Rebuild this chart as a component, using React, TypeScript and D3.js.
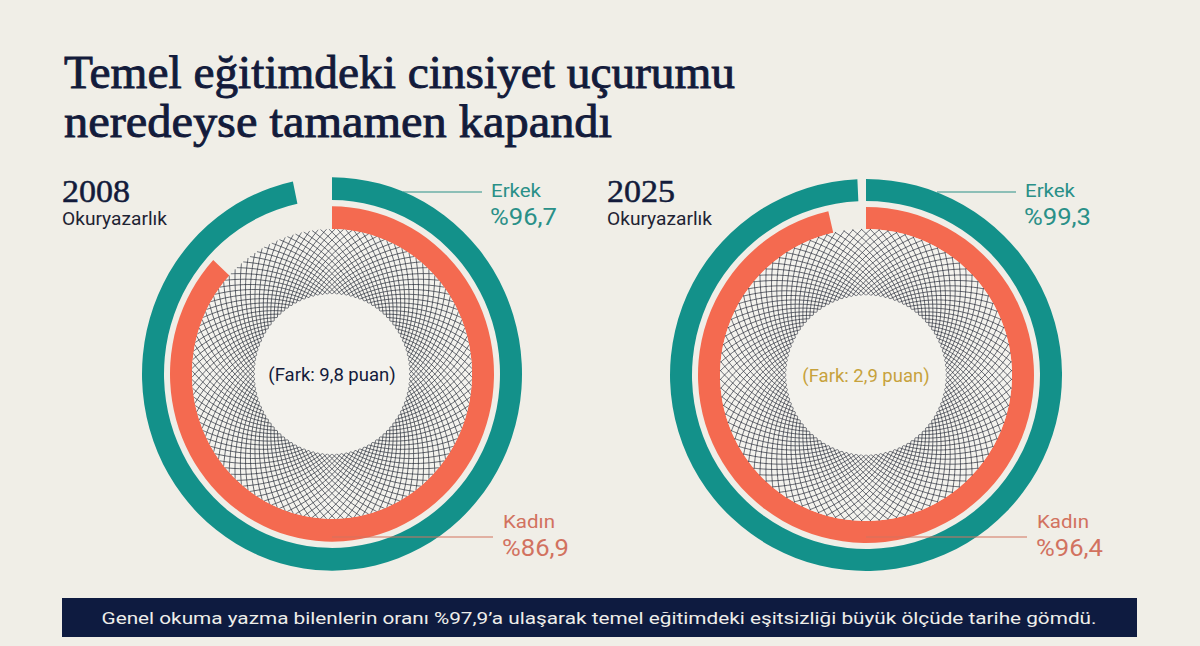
import React from "react";
import * as d3 from "d3";

// ---- data ----
const years = ["2008", "2025"];
const maleRates = [96.7, 99.3];
const femaleRates = [86.9, 96.4];
const seriesNames = ["Erkek", "Kadın"];
const subtitle = "Okuryazarlık";
const titleLines = ["Temel eğitimdeki cinsiyet uçurumu", "neredeyse tamamen kapandı"];
const footnote =
  "Genel okuma yazma bilenlerin oranı %97,9’a ulaşarak temel eğitimdeki eşitsizliği büyük ölçüde tarihe gömdü.";

// ---- layout / style ----
const W = 1200;
const H = 646;
const BG = "#f0eee7";
const NAVY = "#131b3b";
const TEAL = "#13918a";
const CORAL = "#f46a50";
const TEAL_TXT = "#2a9088";
const CORAL_TXT = "#d2725f";
const GOLD = "#c7a23c";
const SANS = "Roboto, 'Noto Sans', sans-serif";
const SERIF = "'Liberation Serif', 'DejaVu Serif', serif";

const panels = [
  { cx: 332, cy: 374, R: 190, sy: 1.035, yearX: 62, gapColor: NAVY },
  { cx: 866, cy: 375, R: 196, sy: 1.0, yearX: 607, gapColor: GOLD },
];

const fmt = (v: number) => v.toFixed(1).replace(".", ",");
const angle = d3.scaleLinear().domain([0, 100]).range([0, 2 * Math.PI]);

const spiralLine = d3
  .line<[number, number]>()
  .x((d) => d[0])
  .y((d) => d[1])
  .curve(d3.curveBasis);

function Ring({ i }: { i: number }) {
  const p = panels[i];
  const R = p.R;
  const tealOuter = R;
  const tealInner = R - 22;
  const coralOuter = R - 28;
  const coralInner = R - 50;
  const hatchOuter = coralInner;
  const hatchInner = R * 0.406;

  const tealArc = d3
    .arc<any>()
    .innerRadius(tealInner)
    .outerRadius(tealOuter)
    .startAngle(0)
    .endAngle(angle(maleRates[i]));
  const coralArc = d3
    .arc<any>()
    .innerRadius(coralInner)
    .outerRadius(coralOuter)
    .startAngle(0)
    .endAngle(angle(femaleRates[i]));

  // decorative mesh: two families of logarithmic spirals crossing the annulus
  const L = Math.log(hatchOuter / hatchInner);
  const n = 104;
  const steps = 24;
  const spirals: string[] = [];
  for (const dir of [1, -1]) {
    for (let k = 0; k < n; k++) {
      const a0 = (k / n) * 2 * Math.PI;
      const pts: [number, number][] = d3.range(steps + 1).map((s) => {
        const t = (s / steps) * L;
        const r = hatchInner * Math.exp(t);
        const a = a0 + dir * t * 1.05;
        return [r * Math.sin(a), -r * Math.cos(a)];
      });
      spirals.push(spiralLine(pts) as string);
    }
  }

  const gap = maleRates[i] - femaleRates[i];

  return (
    <g>
      <g transform={`translate(${p.cx},${p.cy}) scale(1,${p.sy})`}>
        <path d={tealArc({}) as string} fill={TEAL} />
        <path d={coralArc({}) as string} fill={CORAL} />
        <circle r={hatchOuter} fill="#f4f3ee" />
        <g fill="none" stroke="#272c38" strokeWidth={0.75} strokeOpacity={0.92}>
          {spirals.map((d, k) => (
            <path key={k} d={d} />
          ))}
        </g>
        <circle r={hatchInner} fill="#f3f2ed" />
      </g>
      <text
        x={p.cx}
        y={p.cy + 7}
        textAnchor="middle"
        fontFamily={SANS}
        fontSize={18.5}
        fill={p.gapColor}
      >
        {`(Fark: ${fmt(gap)} puan)`}
      </text>

      {/* year heading */}
      <text
        x={p.yearX}
        y={202}
        fontFamily={SERIF}
        fontSize={32}
        fill={NAVY}
        stroke={NAVY}
        strokeWidth={0.5}
        textLength={68}
        lengthAdjust="spacingAndGlyphs"
      >
        {years[i]}
      </text>
      <text
        x={p.yearX}
        y={225}
        fontFamily={SANS}
        fontSize={18}
        fill="#1e2333"
        textLength={105}
        lengthAdjust="spacingAndGlyphs"
      >
        {subtitle}
      </text>

      {/* male label */}
      <line
        x1={p.cx + 71}
        x2={p.cx + 150}
        y1={192}
        y2={192}
        stroke={TEAL_TXT}
        strokeWidth={1.2}
      />
      <text
        x={p.cx + 159}
        y={197}
        fontFamily={SANS}
        fontSize={18}
        fill={TEAL_TXT}
        textLength={50}
        lengthAdjust="spacingAndGlyphs"
      >
        {seriesNames[0]}
      </text>
      <text
        x={p.cx + 158}
        y={225}
        fontFamily={SANS}
        fontSize={24}
        fill={TEAL_TXT}
        textLength={67}
        lengthAdjust="spacingAndGlyphs"
      >
        {`%${fmt(maleRates[i])}`}
      </text>

      {/* female label */}
      <line
        x1={p.cx}
        x2={p.cx + 161}
        y1={537}
        y2={537}
        stroke={CORAL_TXT}
        strokeWidth={1.2}
      />
      <text
        x={p.cx + 171}
        y={528}
        fontFamily={SANS}
        fontSize={18}
        fill={CORAL_TXT}
        textLength={52}
        lengthAdjust="spacingAndGlyphs"
      >
        {seriesNames[1]}
      </text>
      <text
        x={p.cx + 170}
        y={556}
        fontFamily={SANS}
        fontSize={24}
        fill={CORAL_TXT}
        textLength={67}
        lengthAdjust="spacingAndGlyphs"
      >
        {`%${fmt(femaleRates[i])}`}
      </text>
    </g>
  );
}

export default function App() {
  return (
    <svg
      width={W}
      height={H}
      viewBox={`0 0 ${W} ${H}`}
      style={{ position: "absolute", left: 0, top: 0, display: "block" }}
    >
      <rect width={W} height={H} fill={BG} />
      <text
        x={64}
        y={88}
        fontFamily={SERIF}
        fontSize={46}
        fill={NAVY}
        stroke={NAVY}
        strokeWidth={0.9}
        textLength={671}
        lengthAdjust="spacingAndGlyphs"
      >
        {titleLines[0]}
      </text>
      <text
        x={64}
        y={137}
        fontFamily={SERIF}
        fontSize={46}
        fill={NAVY}
        stroke={NAVY}
        strokeWidth={0.9}
        textLength={548}
        lengthAdjust="spacingAndGlyphs"
      >
        {titleLines[1]}
      </text>

      {years.map((_, i) => (
        <Ring key={i} i={i} />
      ))}

      <rect x={62} y={598} width={1075} height={39} fill="#0e1b40" />
      <text
        x={599}
        y={624}
        textAnchor="middle"
        fontFamily={SANS}
        fontSize={17}
        fill="#eeeeea"
        textLength={995}
        lengthAdjust="spacingAndGlyphs"
      >
        {footnote}
      </text>
    </svg>
  );
}
